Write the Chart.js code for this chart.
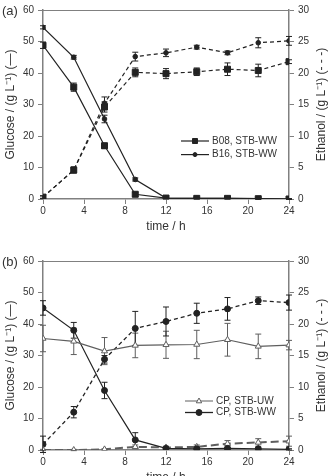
<!DOCTYPE html>
<html>
<head>
<meta charset="utf-8">
<script src="https://cdn.jsdelivr.net/npm/chart.js@4.4.1/dist/chart.umd.min.js"></script>
<style>
  html, body { margin: 0; padding: 0; background: #fff; overflow: hidden; }
  body { width: 332px; height: 476px; position: relative; }
  .panel { position: absolute; left: 0; width: 332px; height: 240px; }
  #panelA { top: 0; }
  #panelB { top: 251px; }
</style>
</head>
<body>
<div class="panel" id="panelA"><canvas id="grafikA" width="332" height="240"></canvas></div>
<div class="panel" id="panelB"><canvas id="grafikB" width="332" height="240"></canvas></div>
<script>
// sampling times (h)
const waktu = [0, 3, 6, 9, 12, 15, 18, 21, 24];

// panel (a): glucose (left axis) and ethanol (right axis), g/L
const glukosaB08 = [48.8, 35.5, 16.9, 1.5, 0.3, 0.2, 0.2, 0.1, 0.0];
const glukosaB16 = [54.5, 45.0, 25.4, 6.2, 0.3, 0.2, 0.2, 0.1, 0.0];
const etanolB08 = [0.3, 4.6, 14.6, 20.1, 19.9, 20.2, 20.6, 20.4, 21.8];
const etanolB16 = [0.3, 4.6, 15.2, 22.6, 23.2, 24.1, 23.2, 24.8, 25.1];
const errGlukosaB08 = [1.0, 1.3, 0.8, 0.6, 0.3, 0.2, 0.2, 0.2, 0.1];
const errGlukosaB16 = [0.5, 0.6, 1.2, 0.5, 0.2, 0.2, 0.2, 0.2, 0.1];
const errEtanolB08 = [0.2, 0.5, 0.8, 0.7, 0.8, 0.6, 1.0, 1.0, 0.3];
const errEtanolB16 = [0.2, 0.3, 1.0, 0.7, 0.6, 0.3, 0.3, 0.8, 0.7];

// panel (b)
const glukosaUW = [35.4, 34.5, 31.4, 33.2, 33.4, 33.5, 35.0, 32.9, 33.3];
const glukosaWW = [45.1, 38.0, 18.9, 3.2, 0.5, 0.4, 0.5, 0.4, 0.2];
const etanolUW = [0.0, 0.0, 0.1, 0.5, 0.4, 0.5, 1.0, 1.2, 1.4];
const etanolWW = [0.9, 6.0, 14.4, 19.3, 20.4, 21.7, 22.4, 23.7, 23.4];
const errGlukosaUW = [4.2, 4.2, 4.3, 3.9, 4.3, 4.5, 5.2, 3.9, 1.5];
const errGlukosaWW = [2.3, 2.5, 2.6, 2.3, 0.3, 0.3, 0.3, 0.3, 0.2];
const errEtanolUW = [0.1, 0.1, 0.1, 0.3, 0.2, 0.3, 0.5, 0.6, 0.8];
const errEtanolWW = [1.3, 0.9, 0.6, 2.7, 2.3, 1.6, 1.8, 0.6, 1.2];

// axis ticks / titles
const tickWaktu = [0, 4, 8, 12, 16, 20, 24];
const judulX = 'time / h';
const judulKiri = 'Glucose / (g L\u207B\u00B9) (\u2014)';
const judulKanan = 'Ethanol / (g L\u207B\u00B9) (- - -)';

const FONT = '"Liberation Sans", Arial, sans-serif';
const HITAM = '#222';
const ABU = '#5e5e5e';
const GARIS_SUMBU = '#808080';

function titik(arr) {
    return waktu.map((t, i) => ({ x: t, y: arr[i] }));
}

function gambarMarker(ctx, gaya, x, y, r, warna, isi) {
    ctx.save();
    ctx.beginPath();
    if (gaya === 'rect') {
        ctx.rect(x - r, y - r, 2 * r, 2 * r);
    } else if (gaya === 'triangle') {
        ctx.moveTo(x, y - r);
        ctx.lineTo(x + r * 0.9, y + r * 0.6);
        ctx.lineTo(x - r * 0.9, y + r * 0.6);
        ctx.closePath();
    } else {
        ctx.arc(x, y, r, 0, Math.PI * 2);
    }
    ctx.fillStyle = isi;
    ctx.fill();
    ctx.lineWidth = 1;
    ctx.strokeStyle = warna;
    ctx.stroke();
    ctx.restore();
}

// error bars, drawn under the markers
const pluginErrorBar = {
    id: 'errorBar',
    beforeDatasetsDraw(chart) {
        const ctx = chart.ctx;
        chart.data.datasets.forEach((ds, i) => {
            if (!ds.errors) return;
            const meta = chart.getDatasetMeta(i);
            const skala = chart.scales[ds.yAxisID];
            ctx.save();
            ctx.strokeStyle = ds.errorColor || ds.borderColor;
            ctx.lineWidth = 1;
            ds.data.forEach((p, j) => {
                const e = ds.errors[j];
                if (!e) return;
                const x = meta.data[j].x;
                const yAtas = skala.getPixelForValue(p.y + e);
                const yBawah = skala.getPixelForValue(p.y - e);
                ctx.beginPath();
                ctx.moveTo(x, yAtas); ctx.lineTo(x, yBawah);
                ctx.moveTo(x - 3, yAtas); ctx.lineTo(x + 3, yAtas);
                ctx.moveTo(x - 3, yBawah); ctx.lineTo(x + 3, yBawah);
                ctx.stroke();
            });
            ctx.restore();
        });
    }
};

// frame top line, right title, panel label and legend
const pluginHiasan = {
    id: 'hiasan',
    afterDraw(chart, args, opts) {
        const ctx = chart.ctx;
        const area = chart.chartArea;
        ctx.save();
        ctx.strokeStyle = GARIS_SUMBU;
        ctx.lineWidth = 1;
        ctx.beginPath();
        ctx.moveTo(area.left, area.top + 0.5);
        ctx.lineTo(area.right, area.top + 0.5);
        ctx.stroke();

        ctx.fillStyle = '#333';
        ctx.font = '13px ' + FONT;
        ctx.textBaseline = 'middle';
        ctx.textAlign = 'left';
        ctx.fillText(opts.label, 2, area.top + 1);

        ctx.save();
        ctx.translate(322, (area.top + area.bottom) / 2);
        ctx.rotate(-Math.PI / 2);
        ctx.textAlign = 'center';
        ctx.font = '12px ' + FONT;
        ctx.fillText(judulKanan, 0, 0);
        ctx.restore();

        ctx.font = '10px ' + FONT;
        opts.legend.forEach((item, k) => {
            const y = opts.legendY + k * opts.legendGap;
            const x0 = opts.legendX;
            ctx.strokeStyle = item.warna;
            ctx.lineWidth = item.lebar;
            ctx.setLineDash([]);
            ctx.beginPath();
            ctx.moveTo(x0, y);
            ctx.lineTo(x0 + 28, y);
            ctx.stroke();
            gambarMarker(ctx, item.gaya, x0 + 14, y, item.r, item.warna, item.isi);
            ctx.fillStyle = '#333';
            ctx.textAlign = 'left';
            ctx.fillText(item.teks, x0 + 31, y);
        });
        ctx.restore();
    }
};

function seri(data, err, gaya, r, warna, isi, sumbu, putus, lebar) {
    return {
        data: titik(data),
        errors: err,
        yAxisID: sumbu,
        borderColor: warna,
        borderWidth: lebar,
        borderDash: putus,
        pointStyle: gaya,
        pointRadius: gaya === 'rect' ? r * 1.414 : r,
        pointBackgroundColor: isi,
        pointBorderColor: warna,
        pointBorderWidth: 1,
        tension: 0,
        fill: false
    };
}

function buatPanel(idCanvas, datasets, hiasan) {
    const ctx = document.getElementById(idCanvas).getContext('2d');
    const sumbuY = (posisi) => ({
        type: 'linear',
        position: posisi,
        min: 0,
        max: 30,
        border: { display: true, color: GARIS_SUMBU, width: 1.5 },
        grid: { drawOnChartArea: false, drawTicks: true, tickLength: 5, tickColor: GARIS_SUMBU },
        ticks: { color: '#333', font: { family: FONT, size: 10 }, padding: 4 },
        afterFit(s) { s.width = 43; }
    });
    const kiri = sumbuY('left');
    kiri.max = 60;
    kiri.ticks.stepSize = 10;
    kiri.title = {
        display: true, text: judulKiri, color: '#333',
        font: { family: FONT, size: 12 }, padding: { top: 3, bottom: 0 }
    };
    const kanan = sumbuY('right');
    kanan.ticks.stepSize = 5;

    return new Chart(ctx, {
        type: 'line',
        data: { datasets: datasets },
        options: {
            responsive: false,
            animation: false,
            layout: { padding: { top: 10, left: 0, right: 0, bottom: 0 } },
            plugins: { legend: { display: false }, tooltip: { enabled: false }, hiasan: hiasan },
            scales: {
                x: {
                    type: 'linear',
                    min: 0,
                    max: 24,
                    border: { display: true, color: GARIS_SUMBU, width: 1.5 },
                    grid: { drawOnChartArea: false, drawTicks: true, tickLength: 5, tickColor: GARIS_SUMBU },
                    afterBuildTicks(s) { s.ticks = tickWaktu.map(v => ({ value: v })); },
                    ticks: { color: '#333', font: { family: FONT, size: 10 }, padding: 1 },
                    title: {
                        display: true, text: judulX, color: '#333',
                        font: { family: FONT, size: 12 }, padding: { top: 0, bottom: 6 }
                    },
                    afterFit(s) { s.height = 41; }
                },
                yKiri: kiri,
                yKanan: kanan
            }
        },
        plugins: [pluginErrorBar, pluginHiasan]
    });
}

buatPanel('grafikA', [
    seri(glukosaB08, errGlukosaB08, 'rect', 3, HITAM, HITAM, 'yKiri', [], 1.2),
    seri(glukosaB16, errGlukosaB16, 'circle', 2.3, HITAM, HITAM, 'yKiri', [], 1.2),
    seri(etanolB08, errEtanolB08, 'rect', 3, HITAM, HITAM, 'yKanan', [4, 3], 1.2),
    seri(etanolB16, errEtanolB16, 'circle', 2.3, HITAM, HITAM, 'yKanan', [4, 3], 1.2)
], {
    label: '(a)',
    legendX: 181, legendY: 141, legendGap: 13.6,
    legend: [
        { teks: 'B08, STB-WW', gaya: 'rect', r: 2.5, warna: HITAM, isi: HITAM, lebar: 1.2 },
        { teks: 'B16, STB-WW', gaya: 'circle', r: 2, warna: HITAM, isi: HITAM, lebar: 1.2 }
    ]
});

buatPanel('grafikB', [
    seri(glukosaUW, errGlukosaUW, 'triangle', 3.5, ABU, '#fff', 'yKiri', [], 1.2),
    seri(glukosaWW, errGlukosaWW, 'circle', 3, HITAM, HITAM, 'yKiri', [], 1.2),
    seri(etanolUW, errEtanolUW, 'triangle', 3.5, ABU, '#fff', 'yKanan', [8, 4], 2),
    seri(etanolWW, errEtanolWW, 'circle', 3, HITAM, HITAM, 'yKanan', [4, 3], 1.3)
], {
    label: '(b)',
    legendX: 185, legendY: 150, legendGap: 11.5,
    legend: [
        { teks: 'CP, STB-UW', gaya: 'triangle', r: 3, warna: ABU, isi: '#fff', lebar: 1 },
        { teks: 'CP, STB-WW', gaya: 'circle', r: 3, warna: HITAM, isi: HITAM, lebar: 1.3 }
    ]
});
</script>
</body>
</html>
